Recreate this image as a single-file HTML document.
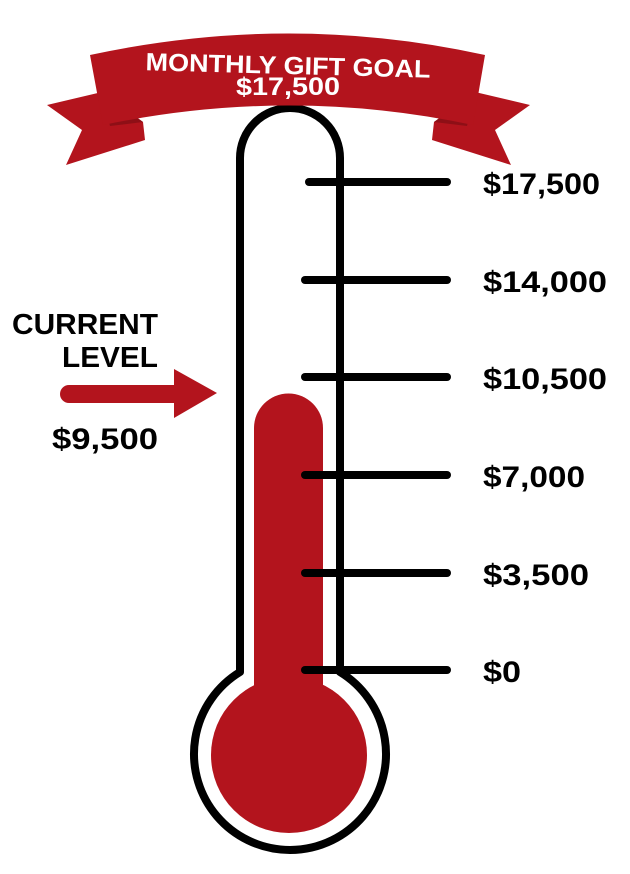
<!DOCTYPE html>
<html><head><meta charset="utf-8"><style>
html,body{margin:0;padding:0;background:#fff;width:630px;height:874px;overflow:hidden}
svg{display:block}
text{font-family:"Liberation Sans",sans-serif;font-weight:bold}
</style></head><body>
<svg width="630" height="874" viewBox="0 0 630 874">
<path d="M240,668 L240,158 A50,50 0 0 1 340,158 L340,668" fill="none" stroke="#000" stroke-width="8"/>
<path d="M240,668 L240,672 A96,96 0 1 0 340,672 L340,668" fill="none" stroke="#000" stroke-width="8" stroke-linejoin="round"/>
<circle cx="289" cy="755" r="78" fill="#b3141d"/>
<path d="M254,720 L254,428 A34.5,34.5 0 0 1 323,428 L323,720 Z" fill="#b3141d"/>
<polygon points="47,105 102,92 143,122 145,140 66,165 82,130" fill="#b3141d"/>
<polygon points="530,105 475,92 434,122 432,140 511,165 495,130" fill="#b3141d"/>
<polygon points="102,92 143,122 110,126" fill="#8e0f16"/>
<polygon points="475,92 434,122 467,126" fill="#8e0f16"/>
<path d="M90,55 Q290,12 485,55 L473,125 Q290,86 103,125 Z" fill="#b3141d"/>
<text x="288" y="74" font-size="25" fill="#fff" text-anchor="middle" textLength="285" lengthAdjust="spacingAndGlyphs" transform="rotate(1.5 288 68)">MONTHLY GIFT GOAL</text>
<text x="288" y="95" font-size="25" fill="#fff" text-anchor="middle" textLength="104" lengthAdjust="spacingAndGlyphs">$17,500</text>
<g stroke="#000" stroke-width="8" stroke-linecap="round">
<line x1="309" y1="182" x2="447" y2="182"/>
<line x1="305" y1="280" x2="447" y2="280"/>
<line x1="305" y1="377" x2="447" y2="377"/>
<line x1="305" y1="475" x2="447" y2="475"/>
<line x1="305" y1="573" x2="447" y2="573"/>
<line x1="305" y1="670" x2="447" y2="670"/>
</g>
<g font-size="30" fill="#000">
<text x="483" y="194" textLength="117" lengthAdjust="spacingAndGlyphs">$17,500</text>
<text x="483" y="292" textLength="124" lengthAdjust="spacingAndGlyphs">$14,000</text>
<text x="483" y="389" textLength="124" lengthAdjust="spacingAndGlyphs">$10,500</text>
<text x="483" y="487" textLength="102" lengthAdjust="spacingAndGlyphs">$7,000</text>
<text x="483" y="585" textLength="106" lengthAdjust="spacingAndGlyphs">$3,500</text>
<text x="483" y="682" textLength="38" lengthAdjust="spacingAndGlyphs">$0</text>
</g>
<text x="12" y="334" font-size="29" fill="#000" textLength="146" lengthAdjust="spacingAndGlyphs">CURRENT</text>
<text x="62" y="367" font-size="29" fill="#000" textLength="96" lengthAdjust="spacingAndGlyphs">LEVEL</text>
<text x="52" y="449" font-size="30" fill="#000" textLength="106" lengthAdjust="spacingAndGlyphs">$9,500</text>
<path d="M69,385 L174,385 L174,369 L217,393 L174,418 L174,403 L69,403 A9,9 0 0 1 69,385 Z" fill="#b3141d"/>
</svg>
</body></html>
